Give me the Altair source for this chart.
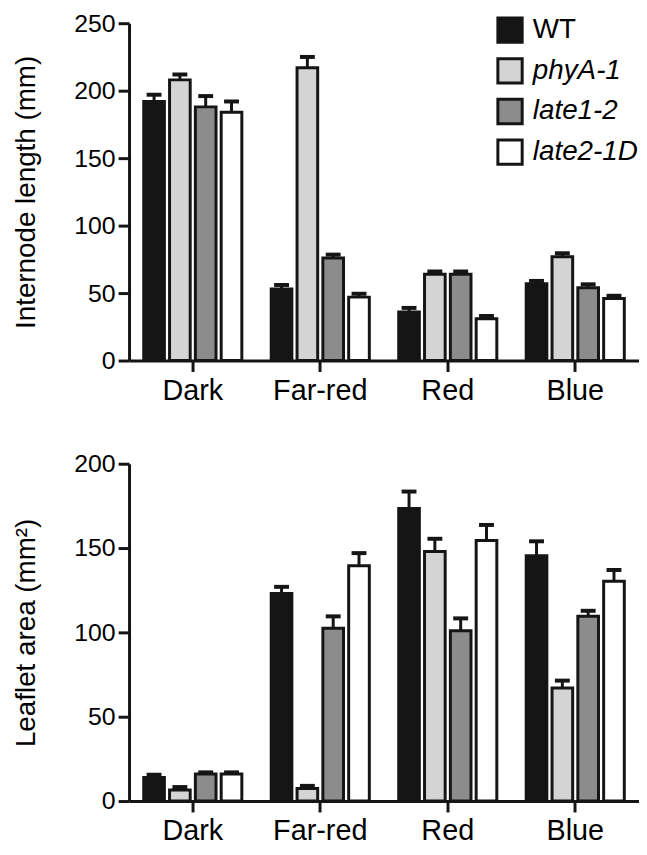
import altair as alt
import pandas as pd

conditions = ["Dark", "Far-red", "Red", "Blue"]
genotypes = ["WT", "phyA-1", "late1-2", "late2-1D"]
colors = ["#151515", "#d4d4d4", "#8c8c8c", "#ffffff"]

# Internode length (mm): mean and upper error (SE) per genotype, by condition
internode_mean = {
    "WT": [192, 53, 36, 57],
    "phyA-1": [208, 217, 64, 77],
    "late1-2": [188, 76, 64, 54],
    "late2-1D": [184, 47, 31, 46],
}
internode_err = {
    "WT": [5, 3, 3, 2],
    "phyA-1": [4, 8, 2, 2.5],
    "late1-2": [8, 2.5, 2, 2.5],
    "late2-1D": [8, 2.5, 2, 2],
}

# Leaflet area (mm2)
leaflet_mean = {
    "WT": [14, 123, 173.5, 145.5],
    "phyA-1": [6.5, 7.5, 148, 67],
    "late1-2": [16, 102.5, 101, 109.5],
    "late2-1D": [16, 139.5, 154.5, 130.3],
}
leaflet_err = {
    "WT": [1.6, 4, 10, 8.5],
    "phyA-1": [1.8, 1.5, 7.5, 4.4],
    "late1-2": [1, 7, 7.3, 3.3],
    "late2-1D": [1, 7.5, 9.2, 6.7],
}


def make_df(means, errs):
    rows = []
    for g in genotypes:
        for i, c in enumerate(conditions):
            rows.append({"condition": c, "genotype": g, "value": means[g][i],
                         "upper": means[g][i] + errs[g][i]})
    return pd.DataFrame(rows)


FONT = "Liberation Sans"
W, H = 514, 340


def panel(df, title, dmax, show_legend):
    x = alt.X("condition:N", sort=conditions,
              scale=alt.Scale(paddingInner=0.19, paddingOuter=0.095),
              axis=alt.Axis(title=None, labelAngle=0, labelFontSize=29,
                            labelPadding=5))
    xo = alt.XOffset("genotype:N", sort=genotypes,
                     scale=alt.Scale(paddingInner=0.2, paddingOuter=0.1))
    yscale = alt.Scale(domain=[0, dmax], nice=False, zero=True)
    if show_legend:
        legend = alt.Legend(
            title=None, orient="none", legendX=370, legendY=-7,
            symbolType="square", symbolSize=600, symbolStrokeWidth=3,
            symbolStrokeColor="#151515", labelFont=FONT, labelFontSize=28,
            labelFontStyle=alt.ExprRef("datum.label == 'WT' ? 'normal' : 'italic'"),
            labelOffset=9, rowPadding=3, padding=0, offset=0, labelColor="black",
            symbolOpacity=1)
    else:
        legend = None
    color = alt.Color("genotype:N", sort=genotypes,
                      scale=alt.Scale(domain=genotypes, range=colors),
                      legend=legend)
    bars = alt.Chart(df).mark_bar(stroke="#151515", strokeWidth=3, opacity=1).encode(
        x=x, xOffset=xo,
        y=alt.Y("value:Q", scale=yscale,
                axis=alt.Axis(title=title, values=list(range(0, dmax + 1, 50)))),
        color=color,
    )
    err = alt.Chart(df).mark_rule(color="#151515", strokeWidth=3).encode(
        x=x, xOffset=xo, y=alt.Y("value:Q", scale=yscale), y2="upper:Q")
    cap = alt.Chart(df).mark_tick(color="#151515", thickness=4, size=15, opacity=1).encode(
        x=x, xOffset=xo, y=alt.Y("upper:Q", scale=yscale))
    return alt.layer(bars, err, cap).properties(width=W, height=H)


top = panel(make_df(internode_mean, internode_err), "Internode length (mm)", 250, True)
bottom = panel(make_df(leaflet_mean, leaflet_err), "Leaflet area (mm²)", 200, False)

chart = alt.vconcat(top, bottom, spacing=47).resolve_legend(
    color="independent"
).configure(
    background="white",
    padding={"left": 4, "top": 0, "right": 0, "bottom": 0},
).configure_view(
    stroke=None
).configure_axis(
    grid=False, domainColor="#151515", domainWidth=3, tickColor="#151515",
    tickWidth=3, tickSize=11, labelFont=FONT, labelFontSize=25, labelColor="black",
    labelPadding=3, titleFont=FONT, titleFontSize=28, titleFontWeight="normal",
    titleColor="black", titlePadding=34,
)

chart.save("out.html", embed_options={"renderer": "svg", "actions": False})
